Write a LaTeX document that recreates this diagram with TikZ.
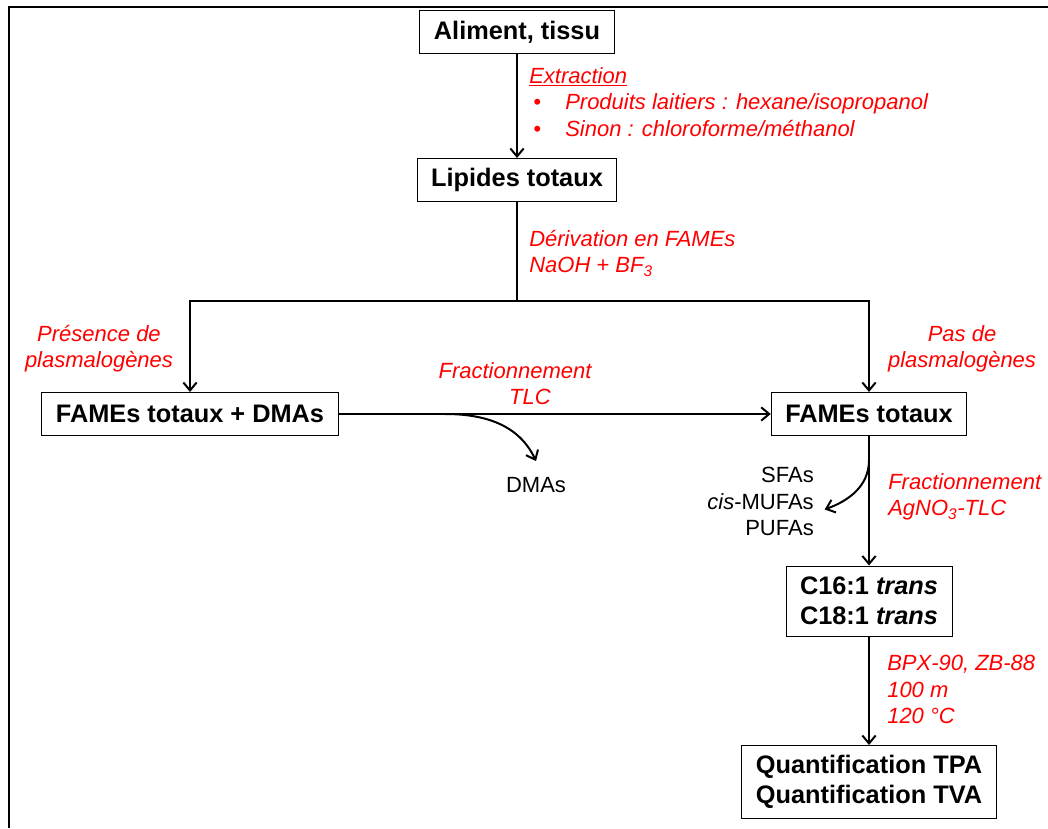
\documentclass[tikz,border=0pt]{standalone}
\usepackage{fontspec}
\setmainfont{Liberation Sans}
\usepackage{tikz}
\usetikzlibrary{arrows.meta}
\definecolor{rouge}{RGB}{255,0,0}

\begin{document}
\begin{tikzpicture}[x=0.75pt,y=-0.75pt,
  etape/.style={draw,line width=0.75pt,inner xsep=10.5pt,inner ysep=0pt,minimum height=32.25pt,align=center,font=\fontsize{19}{22.5}\selectfont\bfseries},
  fl/.style={line width=1.5pt,-{Straight Barb[length=6pt,width=10pt,line width=1.5pt]}},
  trait/.style={line width=1.5pt},
  cond/.style={text=rouge,inner sep=0pt,font=\fontsize{16.5}{19.8}\selectfont\itshape},
  prod/.style={inner sep=0pt,font=\fontsize{16.5}{19.8}\selectfont}]
\useasboundingbox (0,0) rectangle (1048,828);
\draw[line width=2pt] (9,828) -- (9,7) -- (1048,7);

\node[etape] (aliment) at (517,32) {Aliment, tissu};
\node[etape] (lipides) at (517,180) {Lipides totaux};
\node[etape] (dmas) at (190,414) {FAMEs totaux + DMAs};
\node[etape] (fames) at (869,414) {FAMEs totaux};
\node[etape,minimum height=52.5pt] (trans) at (869,601) {C16:1 \textit{trans}\\C18:1 \textit{trans}};
\node[etape,minimum height=54.75pt] (quanti) at (869,782) {Quantification TPA\\Quantification TVA};

\node[cond,anchor=north west,align=left] (extr) at (529,67) {\underline{Extraction}\\
  \hspace*{3pt}\makebox[24pt][l]{\textbullet}Produits laitiers : hexane/isopropanol\\
  \hspace*{3pt}\makebox[24pt][l]{\textbullet}Sinon : chloroforme/méthanol};
\node[cond,anchor=north west,align=left] (deriv) at (529,230) {Dérivation en FAMEs\\NaOH + BF\textsubscript{3}};
\node[cond,anchor=north,align=center] (pres) at (99,325) {Présence de\\plasmalogènes};
\node[cond,anchor=north,align=center] (pas) at (962,325) {Pas de\\plasmalogènes};
\node[cond,anchor=north,align=center] (tlc) at (515,362) {Fractionnement\\\hspace*{22.5pt}TLC};
\node[cond,anchor=north west,align=left] (agno) at (888,473) {Fractionnement\\AgNO\textsubscript{3}-TLC};
\node[cond,anchor=north west,align=left] (gc) at (887,655) {BPX-90, ZB-88\\100 m\\120 °C};

\node[prod] (dmaslib) at (536,485) {DMAs};
\node[prod,anchor=north east,align=right] (fract) at (814,467) {SFAs\\\textit{cis}-MUFAs\\PUFAs};

\coordinate (noeud) at (517,301);
\coordinate (bif) at (445,414);
\coordinate (sep) at (869,460);

\draw[fl] (aliment) -- (lipides);
\draw[trait] (lipides) -- (noeud);
\draw[fl] (noeud) -| (dmas);
\draw[fl] (noeud) -| (fames);
\draw[fl] (dmas) -- (fames);
\draw[fl] (bif) to[out=0,in=115] ([yshift=12pt]dmaslib.north);
\draw[fl] (fames) -- (trans);
\draw[fl] (sep) to[out=-90,in=20] ([shift={(8pt,-6pt)}]fract.east);
\draw[fl] (trans) -- (quanti);
\end{tikzpicture}
\end{document}
